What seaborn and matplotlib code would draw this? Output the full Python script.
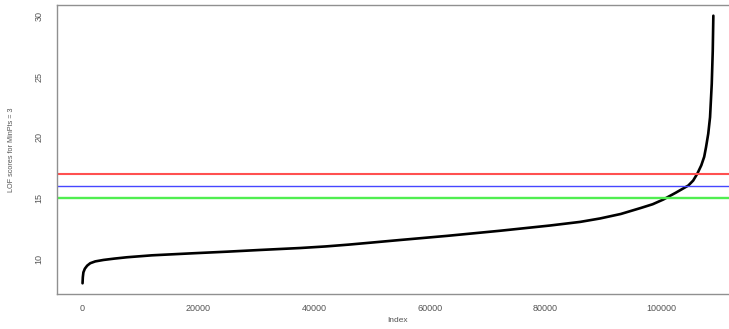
import matplotlib
matplotlib.use("Agg")
import matplotlib.pyplot as plt
import seaborn as sns
import numpy as np

# sorted LOF scores (index, score)
index_pts = [1, 50, 150, 400, 800, 1330, 2200, 3630, 5500, 7670, 12000, 19170,
             25000, 30690, 37600, 42000, 46000, 50000, 54870, 63000, 72150,
             80760, 86000, 89413, 93000, 96500, 98500, 100345, 102500, 104663,
             105500, 106218, 106900, 107400, 107720, 108100, 108411, 108705,
             108877, 108981]
lof_scores = [8.0, 8.5, 8.9, 9.2, 9.45, 9.65, 9.8, 9.92, 10.03, 10.14, 10.3, 10.47,
              10.6, 10.74, 10.9, 11.03, 11.18, 11.35, 11.56, 11.9, 12.32,
              12.75, 13.05, 13.33, 13.7, 14.2, 14.5, 14.89, 15.45, 16.04,
              16.45, 17.02, 17.7, 18.4, 19.2, 20.3, 21.66, 24.4,
              27.1, 30.0]

thresholds = [17, 16, 15]
threshold_colors = ["#ff5050", "#4646ff", "#50ee50"]
threshold_widths = [1.5, 1.0, 1.7]

x_ticks = [0, 20000, 40000, 60000, 80000, 100000]
y_ticks = [10, 15, 20, 25, 30]

sns.set_theme(style="white")
plt.rcParams["font.family"] = ["Liberation Sans", "DejaVu Sans"]

fig = plt.figure(figsize=(7.29, 3.29), dpi=100)
ax = fig.add_axes([0.0786, 0.1064, 0.9347, 0.8784])

sns.lineplot(x=index_pts, y=lof_scores, color="black", linewidth=1.9, ax=ax)

for h, c, w in zip(thresholds, threshold_colors, threshold_widths):
    ax.axhline(h, color=c, linewidth=w)

ax.set_xlim(-4360, 113360)
ax.set_ylim(7.12, 30.88)
ax.set_xticks(x_ticks)
ax.set_yticks(y_ticks)
ax.set_xticklabels([str(t) for t in x_ticks])
ax.set_yticklabels([str(t) for t in y_ticks], rotation=90, va="center")

for s in ax.spines.values():
    s.set_color("#909090")
    s.set_linewidth(1.0)

ax.tick_params(axis="both", direction="out", length=4, width=0.8,
               color="#777777", labelcolor="#555555", labelsize=6.5)
ax.tick_params(axis="x", pad=3)
ax.tick_params(axis="y", pad=6)

ax.set_xlabel("Index", fontsize=6, color="#555555", labelpad=3)
ax.set_ylabel("LOF scores for MinPts = 3", fontsize=5.2, color="#555555", labelpad=14)

fig.savefig("out.png", dpi=100)
